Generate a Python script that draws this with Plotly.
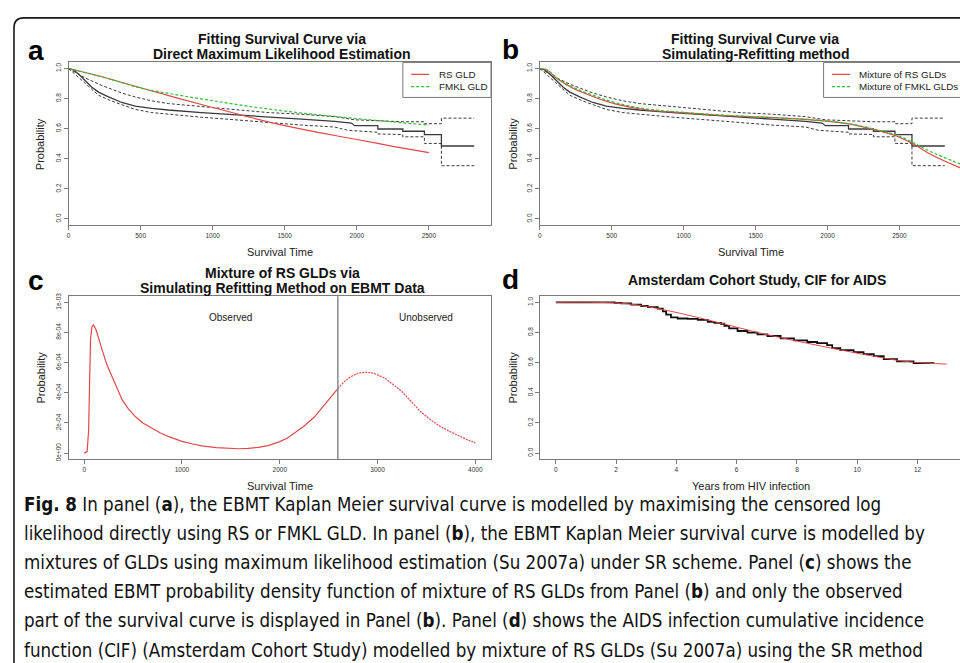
import plotly.graph_objects as go

W, H = 960, 663

# ---------------- data ----------------
# EBMT Kaplan-Meier estimate (panels a, b)
KM_TIME = [0, 35, 69, 115, 162, 208, 277, 369, 462, 577, 692, 923, 1154, 1385, 1615, 1846, 1962, 1985,
           2146, 2146, 2319, 2319, 2469, 2469, 2587, 2587, 2815]
KM_SURV = [1.0, 0.99, 0.963, 0.92, 0.876, 0.843, 0.811, 0.774, 0.75, 0.735, 0.724, 0.707, 0.691, 0.674,
           0.663, 0.648, 0.637, 0.62, 0.62, 0.598, 0.598, 0.583, 0.583, 0.561, 0.561, 0.485, 0.485]
CI_UP_TIME = [0, 115, 231, 369, 462, 577, 692, 923, 1154, 1385, 1615, 1846, 1985, 2146, 2319, 2469, 2469,
              2587, 2587, 2815]
CI_UP = [1.0, 0.937, 0.887, 0.837, 0.811, 0.785, 0.767, 0.746, 0.724, 0.707, 0.696, 0.68, 0.659, 0.652,
         0.646, 0.646, 0.633, 0.633, 0.67, 0.67]
CI_LO_TIME = [0, 115, 208, 300, 462, 577, 692, 923, 1154, 1385, 1615, 1846, 1939, 2146, 2146, 2319, 2319,
              2469, 2469, 2587, 2587, 2815]
CI_LO = [1.0, 0.904, 0.822, 0.783, 0.728, 0.707, 0.696, 0.676, 0.659, 0.641, 0.624, 0.611, 0.589, 0.576,
         0.565, 0.561, 0.546, 0.546, 0.502, 0.502, 0.354, 0.354]

# Panel a: direct ML fits
RS_TIME = [0, 250, 500, 750, 1000, 1250, 1500, 1750, 2000, 2250, 2500]
RS_SURV = [1.0, 0.94, 0.872, 0.805, 0.741, 0.678, 0.62, 0.572, 0.528, 0.483, 0.441]
FMKL_TIME = [0, 250, 500, 750, 1000, 1250, 1500, 1750, 2000, 2250, 2500]
FMKL_SURV = [1.0, 0.94, 0.87, 0.825, 0.786, 0.749, 0.717, 0.69, 0.667, 0.645, 0.624]

# Panel b: mixture fits (simulating-refitting)
MIX_TIME = [0, 50, 123, 238, 377, 516, 748, 979, 1211, 1442, 1674, 1905, 2137, 2368, 2484, 2600, 2715, 2924]
MIX_RS = [1.0, 0.99, 0.93, 0.865, 0.811, 0.767, 0.724, 0.707, 0.691, 0.68, 0.671, 0.657, 0.633, 0.583,
          0.55, 0.496, 0.43, 0.339]
MIX_FMKL = [1.0, 0.99, 0.935, 0.872, 0.82, 0.775, 0.73, 0.71, 0.694, 0.682, 0.672, 0.659, 0.635, 0.587,
            0.556, 0.505, 0.448, 0.365]

# Panel c: density of mixture of RS GLDs
PDF_TIME = [0, 30, 45, 55, 65, 80, 95, 120, 150, 186, 230, 288, 340, 390, 450, 525, 600, 695, 780, 865,
            1000, 1100, 1204, 1350, 1475, 1580, 1678, 1780, 1882, 2000, 2080, 2153, 2250, 2356, 2480, 2594,
            2660, 2729, 2800, 2882, 2960, 3068, 3150, 3238, 3340, 3441, 3545, 3645, 3750, 3848, 3920, 4000]
PDF_VAL = [0.0, 0.1, 1.5, 5.0, 7.6, 8.4, 8.5, 8.2, 7.5, 6.8, 5.9, 5.04, 4.2, 3.51, 2.95, 2.41, 2.0, 1.64,
           1.33, 1.09, 0.78, 0.62, 0.48, 0.36, 0.30, 0.29, 0.32, 0.38, 0.50, 0.76, 1.0, 1.32, 1.8, 2.41,
           3.35, 4.28, 4.75, 5.08, 5.3, 5.37, 5.3, 5.0, 4.6, 4.16, 3.45, 2.74, 2.2, 1.75, 1.4, 1.09, 0.88,
           0.68]  # in units of 1e-4
CUTOFF_TIME = 2594
REGION_LABELS = ["Observed", "Unobserved"]
REGION_LABEL_X = [1500, 3500]
REGION_LABEL_Y = 9e-4
C_TICK_VALS = [0, 2e-4, 4e-4, 6e-4, 8e-4, 1e-3]
C_TICK_TEXT = ["0e+00", "2e-04", "4e-04", "6e-04", "8e-04", "1e-03"]

# Panel d: Amsterdam Cohort Study
AIDS_TIME = [0, 1.4, 1.95, 2.17, 2.5, 2.83, 3.05, 3.38, 3.55, 3.66, 3.82, 4.04, 4.37, 4.71, 5.04, 5.26,
             5.48, 5.59, 5.75, 6.03, 6.36, 6.69, 7.02, 7.46, 7.9, 8.34, 8.67, 9.0, 9.17, 9.44, 9.88,
             10.21, 10.55, 10.88, 11.32, 11.87, 12.53]
AIDS_KM = [1.0, 1.0, 0.996, 0.993, 0.985, 0.976, 0.969, 0.958, 0.94, 0.919, 0.90, 0.893, 0.891, 0.884,
           0.871, 0.864, 0.858, 0.844, 0.827, 0.81, 0.799, 0.788, 0.777, 0.761, 0.748, 0.737, 0.73, 0.716,
           0.696, 0.683, 0.67, 0.656, 0.643, 0.624, 0.608, 0.597, 0.591]
AIDS_FIT_TIME = [0, 1.4, 2.5, 3.6, 4.71, 5.81, 6.91, 8.01, 9.11, 10.21, 11.32, 11.87, 12.97]
AIDS_FIT = [1.0, 1.0, 0.988, 0.95, 0.9, 0.845, 0.79, 0.743, 0.697, 0.655, 0.616, 0.603, 0.59]

SURV_TICKS = [0, 500, 1000, 1500, 2000, 2500]
PDF_X_TICKS = [0, 1000, 2000, 3000, 4000]
YEAR_TICKS = [0, 2, 4, 6, 8, 10, 12]
PROB_TICKS = [0, 0.2, 0.4, 0.6, 0.8, 1.0]
PROB_TEXT = ["0.0", "0.2", "0.4", "0.6", "0.8", "1.0"]

CAPTION = [
    "<b>Fig. 8</b> In panel (<b>a</b>), the EBMT Kaplan Meier survival curve is modelled by maximising the censored log",
    "likelihood directly using RS or FMKL GLD. In panel (<b>b</b>), the EBMT Kaplan Meier survival curve is modelled by",
    "mixtures of GLDs using maximum likelihood estimation (Su 2007a) under SR scheme. Panel (<b>c</b>) shows the",
    "estimated EBMT probability density function of mixture of RS GLDs from Panel (<b>b</b>) and only the observed",
    "part of the survival curve is displayed in Panel (<b>b</b>). Panel (<b>d</b>) shows the AIDS infection cumulative incidence",
    "function (CIF) (Amsterdam Cohort Study) modelled by mixture of RS GLDs (Su 2007a) using the SR method",
]

# ---------------- styling ----------------
SANS = "Liberation Sans, Arial, sans-serif"
NARROW = "DejaVu Sans Condensed, Liberation Sans Narrow, Liberation Sans, sans-serif"
RED = "#e04848"
GREEN = "#2fbf2f"
KMCOL = "#3a3a3a"
BOX = "#7a7a7a"


def px(x):
    return x / W


def py(y):
    return 1 - y / H


fig = go.Figure()

# panel a
fig.add_trace(go.Scatter(x=CI_UP_TIME, y=CI_UP, mode="lines", line=dict(color=KMCOL, width=1, dash="3px,2px"),
                         xaxis="x", yaxis="y", showlegend=False))
fig.add_trace(go.Scatter(x=CI_LO_TIME, y=CI_LO, mode="lines", line=dict(color=KMCOL, width=1, dash="3px,2px"),
                         xaxis="x", yaxis="y", showlegend=False))
fig.add_trace(go.Scatter(x=KM_TIME, y=KM_SURV, mode="lines", line=dict(color=KMCOL, width=1.3),
                         xaxis="x", yaxis="y", showlegend=False))
fig.add_trace(go.Scatter(x=RS_TIME, y=RS_SURV, mode="lines", line=dict(color=RED, width=1.2, shape="spline"),
                         xaxis="x", yaxis="y", name="RS GLD", showlegend=False))
fig.add_trace(go.Scatter(x=FMKL_TIME, y=FMKL_SURV, mode="lines",
                         line=dict(color=GREEN, width=1.2, dash="3px,2px", shape="spline"),
                         xaxis="x", yaxis="y", name="FMKL GLD", showlegend=False))

# panel b
fig.add_trace(go.Scatter(x=CI_UP_TIME, y=CI_UP, mode="lines", line=dict(color=KMCOL, width=1, dash="3px,2px"),
                         xaxis="x2", yaxis="y2", showlegend=False))
fig.add_trace(go.Scatter(x=CI_LO_TIME, y=CI_LO, mode="lines", line=dict(color=KMCOL, width=1, dash="3px,2px"),
                         xaxis="x2", yaxis="y2", showlegend=False))
fig.add_trace(go.Scatter(x=KM_TIME, y=KM_SURV, mode="lines", line=dict(color=KMCOL, width=1.3),
                         xaxis="x2", yaxis="y2", showlegend=False))
fig.add_trace(go.Scatter(x=MIX_TIME, y=MIX_RS, mode="lines", line=dict(color=RED, width=1.2, shape="spline"),
                         xaxis="x2", yaxis="y2", name="Mixture of RS GLDs", showlegend=False))
fig.add_trace(go.Scatter(x=MIX_TIME, y=MIX_FMKL, mode="lines",
                         line=dict(color=GREEN, width=1.2, dash="3px,2px", shape="spline"),
                         xaxis="x2", yaxis="y2", name="Mixture of FMKL GLDs", showlegend=False))

# panel c
obs_t = [t for t in PDF_TIME if t <= CUTOFF_TIME]
obs_v = [v * 1e-4 for t, v in zip(PDF_TIME, PDF_VAL) if t <= CUTOFF_TIME]
uno_t = [t for t in PDF_TIME if t >= CUTOFF_TIME]
uno_v = [v * 1e-4 for t, v in zip(PDF_TIME, PDF_VAL) if t >= CUTOFF_TIME]
fig.add_trace(go.Scatter(x=obs_t, y=obs_v, mode="lines", line=dict(color=RED, width=1.2),
                         xaxis="x3", yaxis="y3", showlegend=False))
fig.add_trace(go.Scatter(x=uno_t, y=uno_v, mode="lines", line=dict(color=RED, width=1.2, dash="2px,1px"),
                         xaxis="x3", yaxis="y3", showlegend=False))

# panel d
fig.add_trace(go.Scatter(x=AIDS_TIME, y=AIDS_KM, mode="lines", line=dict(color="#111111", width=1.8, shape="hv"),
                         xaxis="x4", yaxis="y4", showlegend=False))
fig.add_trace(go.Scatter(x=AIDS_FIT_TIME, y=AIDS_FIT, mode="lines",
                         line=dict(color=RED, width=1, shape="spline"),
                         xaxis="x4", yaxis="y4", showlegend=False))

tickfont = dict(family=SANS, size=6.5, color="#333333")
common_x = dict(showgrid=False, zeroline=False, showline=True, linecolor=BOX, linewidth=1, mirror=True,
                ticks="outside", ticklen=4, tickcolor=BOX, tickfont=tickfont)
common_y = dict(showgrid=False, zeroline=False, showline=True, linecolor=BOX, linewidth=1,
                ticks="outside", ticklen=4, tickcolor=BOX, tickfont=tickfont, tickangle=-90)

top = [py(223), py(59)]
bot = [py(459.3), py(295)]
left = [px(66.7), px(490)]
right_b = [px(539), 1.0]
right_d = [px(539.3), 1.0]

fig.update_layout(
    width=W, height=H, margin=dict(l=0, r=0, t=0, b=0),
    paper_bgcolor="white", plot_bgcolor="white",
    xaxis=dict(common_x, domain=left, range=[0, 2931], tickvals=SURV_TICKS, anchor="y"),
    yaxis=dict(common_y, domain=top, range=[-0.04, 1.04], tickvals=PROB_TICKS, ticktext=PROB_TEXT,
               anchor="x", mirror=True),
    xaxis2=dict(common_x, domain=right_b, range=[0, 2921], tickvals=SURV_TICKS, anchor="y2"),
    yaxis2=dict(common_y, domain=top, range=[-0.04, 1.04], tickvals=PROB_TICKS, ticktext=PROB_TEXT,
                anchor="x2", mirror=False),
    xaxis3=dict(common_x, domain=left, range=[-160, 4160], tickvals=PDF_X_TICKS, anchor="y3"),
    yaxis3=dict(common_y, domain=bot, range=[-0.04e-3, 1.04e-3], tickvals=C_TICK_VALS, ticktext=C_TICK_TEXT,
                anchor="x3", mirror=True),
    xaxis4=dict(common_x, domain=right_d, range=[-0.52, 13.41], tickvals=YEAR_TICKS, anchor="y4"),
    yaxis4=dict(common_y, domain=bot, range=[-0.04, 1.04], tickvals=PROB_TICKS, ticktext=PROB_TEXT,
                anchor="x4", mirror=False),
)

shapes = []
annotations = []

# outer rounded border
shapes.append(dict(type="path", xref="paper", yref="paper",
                   path=f"M {px(12)},{py(700)} L {px(12)},{py(24)} Q {px(12)},{py(14)} {px(22)},{py(14)} L {px(1000)},{py(14)}",
                   line=dict(color="#1a1a1a", width=1.6)))

# vertical cutoff line in panel c
shapes.append(dict(type="line", xref="x3", yref="y3 domain", x0=CUTOFF_TIME, x1=CUTOFF_TIME, y0=0, y1=1,
                   line=dict(color="#8a8a8a", width=1.5)))


def legend_box(x0, x1, y0, y1, line_x0, line_x1, text_x, items):
    shapes.append(dict(type="rect", xref="paper", yref="paper", x0=px(x0), x1=px(x1), y0=py(y1), y1=py(y0),
                       line=dict(color=BOX, width=1), fillcolor="white", layer="above"))
    for (label, color, dash), yy in zip(items, [71, 83.3]):
        shapes.append(dict(type="line", xref="paper", yref="paper", x0=px(line_x0), x1=px(line_x1),
                           y0=py(yy), y1=py(yy), line=dict(color=color, width=1.2, dash=dash)))
        annotations.append(dict(text=label, xref="paper", yref="paper", x=px(text_x), y=py(yy),
                                xanchor="left", yanchor="middle", showarrow=False,
                                font=dict(family=SANS, size=9.8, color="#222222")))


legend_box(401.7, 490, 59, 94.3, 410, 428, 435.5,
           [("RS GLD", RED, "solid"), ("FMKL GLD", GREEN, "3px,2px")])
legend_box(823.3, 970, 59, 94.3, 831.7, 850, 856.5,
           [("Mixture of RS GLDs", RED, "solid"), ("Mixture of FMKL GLDs", GREEN, "3px,2px")])


def txt(s, x, y, size, bold=False, angle=0, family=SANS, xanchor="center", color="#111111"):
    annotations.append(dict(text=f"<b>{s}</b>" if bold else s, xref="paper", yref="paper", x=px(x), y=py(y),
                            xanchor=xanchor, yanchor="middle", showarrow=False, textangle=angle,
                            font=dict(family=family, size=size, color=color)))


# titles
txt("Fitting Survival Curve via", 281, 35, 14, bold=True)
txt("Direct Maximum Likelihood Estimation", 281, 50, 14, bold=True)
txt("Fitting Survival Curve via", 755, 35, 14, bold=True)
txt("Simulating-Refitting method", 755, 50, 14, bold=True)
txt("Mixture of RS GLDs via", 281, 271.5, 14, bold=True)
txt("Simulating Refitting Method on EBMT Data", 281, 286.5, 14, bold=True)
txt("Amsterdam Cohort Study, CIF for AIDS", 757, 279, 14, bold=True)

# panel letters
txt("a", 34, 47, 28, bold=True, color="#000000")
txt("b", 510, 46, 28, bold=True, color="#000000")
txt("c", 34.5, 279, 28, bold=True, color="#000000")
txt("d", 509.5, 278, 28, bold=True, color="#000000")

# axis titles
txt("Survival Time", 278.3, 250, 11, color="#222222")
txt("Survival Time", 751, 250, 11, color="#222222")
txt("Survival Time", 278.3, 486, 11, color="#222222")
txt("Years from HIV infection", 751, 486, 11, color="#222222")
txt("Probability", 37.5, 141, 11, angle=-90, color="#222222")
txt("Probability", 512, 141, 11, angle=-90, color="#222222")
txt("Probability", 39, 377, 11, angle=-90, color="#222222")
txt("Probability", 512, 377, 11, angle=-90, color="#222222")

# region labels in panel c
for lab, lx in zip(REGION_LABELS, REGION_LABEL_X):
    annotations.append(dict(text=lab, xref="x3", yref="y3", x=lx, y=REGION_LABEL_Y, showarrow=False,
                            xanchor="center", yanchor="middle",
                            font=dict(family=SANS, size=10, color="#222222")))

# caption
for i, line in enumerate(CAPTION):
    annotations.append(dict(text=line, xref="paper", yref="paper", x=px(20), y=py(505 + i * 29.4),
                            xanchor="left", yanchor="middle", showarrow=False,
                            font=dict(family=NARROW, size=18.6, color="#111111")))

fig.update_layout(shapes=shapes, annotations=annotations)
fig.write_html("out.html")
